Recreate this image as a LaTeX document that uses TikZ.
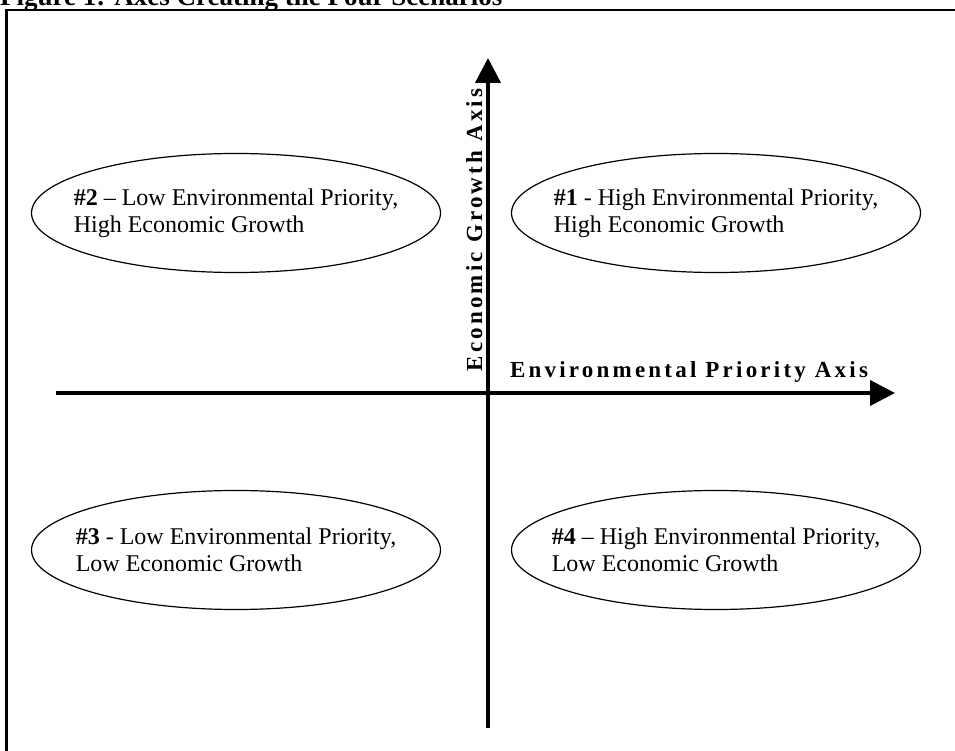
\documentclass[tikz,border=0pt]{standalone}
\usepackage{fontspec}
\setmainfont{Liberation Serif}
\usetikzlibrary{shapes.geometric}
\usetikzlibrary{arrows.meta}
\tikzset{>={Triangle[width=25pt,length=25pt]}}
\newcommand{\spaced}[1]{{\addfontfeatures{LetterSpace=14}#1}}

\begin{document}
\begin{tikzpicture}[
    x = 1pt, y = -1pt,
    scen/.style = {draw, line width=1.2pt, ellipse, minimum width=409pt,
        minimum height=119pt, inner xsep=-20pt, inner ysep=0pt, align=left,
        font=\fontsize{24}{27}\selectfont},
    axis/.style = {line width=4pt, ->},
    axlabel/.style = {anchor=base, inner sep=0pt,
        font=\fontsize{23}{26}\selectfont\bfseries}
  ]
  \useasboundingbox (0,0) rectangle (955,751);

  % frame and caption
  \draw[line width=2.5pt] (6.5,1000) -- (6.5,10) -- (1000,10);
  \node[anchor=base west, inner sep=0pt, font=\fontsize{27}{30}\selectfont\bfseries]
    (TITLE) at (0,6) {Figure 1: Axes Creating the Four Scenarios};

  % axes
  \coordinate (W) at (56,393);
  \coordinate (E) at (895,393);
  \coordinate (S) at (488,728);
  \coordinate (N) at (488,58);
  \draw[axis] (W) -- (E);
  \draw[axis] (S) -- (N);

  \node[axlabel, rotate=90] (YLAB) at (482,230) {\spaced{Economic Growth Axis}};
  \node[axlabel] (XLAB) at (689,377) {\spaced{Environmental Priority Axis}};

  % the four scenarios
  \node[scen] (S2) at (236,213) {\textbf{\#2} -- Low Environmental Priority,\\High Economic Growth};
  \node[scen] (S1) at (716,213) {\textbf{\#1} - High Environmental Priority,\\High Economic Growth};
  \node[scen] (S3) at (236,550) {\textbf{\#3} - Low Environmental Priority,\\Low Economic Growth};
  \node[scen] (S4) at (716,550) {\textbf{\#4} -- High Environmental Priority,\\Low Economic Growth};
\end{tikzpicture}
\end{document}
